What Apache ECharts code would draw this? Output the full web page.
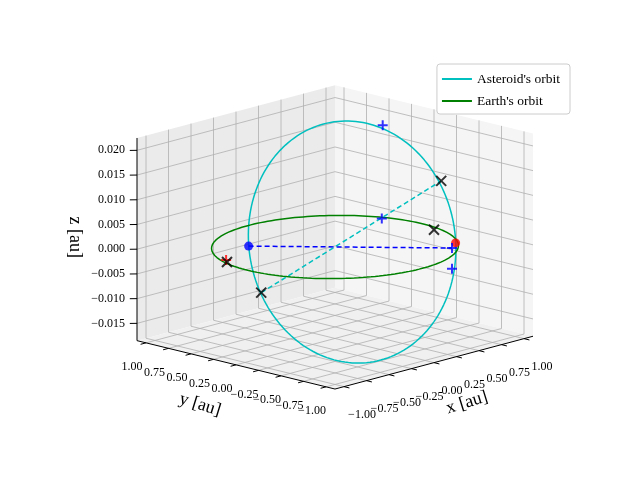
<!DOCTYPE html>
<html>
<head>
<meta charset="utf-8">
<script src="https://cdn.jsdelivr.net/npm/echarts@6/dist/echarts.min.js"></script>
<style>html,body{margin:0;background:#fff}#chart{width:640px;height:480px}</style>
</head>
<body>
<div id="chart"></div>
<script>
// 数据（3D 坐标，单位 au）
const xTicks = [-1, -0.75, -0.5, -0.25, 0, 0.25, 0.5, 0.75, 1]
const yTicks = [-1, -0.75, -0.5, -0.25, 0, 0.25, 0.5, 0.75, 1]
const zTicks = [-0.015, -0.01, -0.005, 0, 0.005, 0.01, 0.015, 0.02]
const boxX = [-1.1, 1.1]
const boxY = [-1.1, 1.1]
const boxZ = [-0.0185, 0.0225]
// 地球轨道：半径
const earthRadius = 0.97
// 小行星轨道：中心、半长轴向量、半短轴向量
const asteroidCenter = [0.145, -0.045, 0.0005]
const asteroidAxisA = [0.585, -0.565, 0]
const asteroidAxisB = [-0.04, 0.04, 0.0245]
const bluePoint = [-0.44, 0.52, 0]
const redPoint = [0.73, -0.61, 0]
const blackCrosses = [[0.39, -0.79, 0.015], [0.9, -0.2, 0], [-0.9, 0.3, 0], [-0.31, 0.51, -0.01]]
const bluePluses = [[0.32, -0.21, 0.024], [0.01, -0.51, 0.008], [0.6, -0.7, 0], [0.58, -0.72, -0.004]]
const redPluses = [[-0.86, 0.35, 0]]
const blueDash = [bluePoint, [0.6, -0.7, 0]]
const cyanDash = [[-0.31, 0.51, -0.01], [0.39, -0.79, 0.015]]

// 视角投影（正交）
function proj(p) {
  return [335 + 90 * p[0] - 90 * p[1], 247 - 24 * p[0] - 22 * p[1] - 4943 * p[2]]
}
const N = 180
function ellipse(c, a, b) {
  const out = []
  for (let i = 0; i <= N; i++) {
    const t = 2 * Math.PI * i / N
    out.push(proj([0, 1, 2].map(k => c[k] + a[k] * Math.cos(t) + b[k] * Math.sin(t))))
  }
  return out
}
const earthOrbit = ellipse([0, 0, 0], [earthRadius, 0, 0], [0, earthRadius, 0])
const asteroidOrbit = ellipse(asteroidCenter, asteroidAxisA, asteroidAxisB)

const font = 'Liberation Serif'
const plus = 'path://M5,0L5,10M0,5L10,5'
const cross = 'path://M0,0L10,10M10,0L0,10'

function fmt(v, d) {
  const s = v.toFixed(d)
  return v < 0 ? '\u2212' + s.slice(1) : s
}

function decor(params, api) {
  const ch = []
  const c = p => api.coord(proj(p))
  const [x0, x1] = boxX, [y0, y1] = boxY, [z0, z1] = boxZ
  const poly = (pts, fill) => ch.push({ type: 'polygon', shape: { points: pts.map(c) }, style: { fill: fill, stroke: null } })
  const seg = (a, b, color, w) => {
    const A = c(a), B = c(b)
    ch.push({ type: 'line', shape: { x1: A[0], y1: A[1], x2: B[0], y2: B[1] }, style: { stroke: color, lineWidth: w || 0.8 } })
  }
  const text = (p, s, dx, dy, opt) => {
    const P = c(p)
    ch.push({ type: 'text', x: P[0] + dx, y: P[1] + dy, rotation: (opt && opt.rot) || 0,
      style: { text: s, font: ((opt && opt.size) || 12) + 'px "' + font + '"', fill: '#000',
        align: (opt && opt.align) || 'center', verticalAlign: 'middle' } })
  }
  // 面板
  poly([[x0, y1, z0], [x1, y1, z0], [x1, y1, z1], [x0, y1, z1]], '#ebebeb')
  poly([[x1, y0, z0], [x1, y1, z0], [x1, y1, z1], [x1, y0, z1]], '#f5f5f5')
  poly([[x0, y0, z0], [x1, y0, z0], [x1, y1, z0], [x0, y1, z0]], '#f0f0f0')
  // 网格
  const g = '#b0b0b0'
  xTicks.forEach(x => { seg([x, y0, z0], [x, y1, z0], g); seg([x, y1, z0], [x, y1, z1], g) })
  yTicks.forEach(y => { seg([x0, y, z0], [x1, y, z0], g); seg([x1, y, z0], [x1, y, z1], g) })
  zTicks.forEach(z => { seg([x0, y1, z], [x1, y1, z], g); seg([x1, y1, z], [x1, y0, z], g) })
  // 坐标轴
  seg([x0, y0, z0], [x1, y0, z0], '#000', 1)
  seg([x0, y0, z0], [x0, y1, z0], '#000', 1)
  seg([x0, y1, z0], [x0, y1, z1], '#000', 1)
  xTicks.forEach(x => { seg([x, y0, z0], [x, y0 - 0.06, z0], '#000', 1); text([x, y0, z0], fmt(x, 2), 18, 28) })
  yTicks.forEach(y => { seg([x0, y, z0], [x0 - 0.06, y, z0], '#000', 1); text([x0, y, z0], fmt(y, 2), -14, 24) })
  zTicks.forEach(z => { seg([x0, y1, z], [x0 - 0.04, y1 + 0.04, z], '#000', 1); text([x0, y1, z], fmt(z, 3), -12, 0, { align: 'right' }) })
  text([0, y0, z0], 'x [au]', 33, 40, { size: 18, rot: 0.3 })
  text([x0, 0, z0], 'y [au]', -36, 40, { size: 18, rot: -0.3 })
  text([x0, y1, 0], 'z [au]', -62, -12, { size: 18, rot: -Math.PI / 2 })
  return { type: 'group', children: ch }
}

const chart = echarts.init(document.getElementById('chart'))
chart.setOption({
  animation: false,
  textStyle: { fontFamily: font },
  grid: { left: 0, right: 0, top: 0, bottom: 0 },
  xAxis: { type: 'value', min: 0, max: 640, show: false },
  yAxis: { type: 'value', min: 0, max: 480, inverse: true, show: false },
  legend: {
    right: 70, top: 64, orient: 'vertical', itemGap: 8, itemWidth: 30, itemHeight: 2,
    backgroundColor: '#fff', borderColor: '#ccc', borderWidth: 1, borderRadius: 3, padding: [8, 10, 6, 5],
    textStyle: { fontFamily: font, fontSize: 13.5, color: '#000' },
    data: [{ name: "Asteroid's orbit", icon: 'rect' }, { name: "Earth's orbit", icon: 'rect' }]
  },
  series: [
    { type: 'custom', renderItem: decor, data: [0], silent: true, z: 0 },
    { name: "Asteroid's orbit", type: 'line', data: asteroidOrbit, showSymbol: false, color: '#00bfbf', lineStyle: { width: 1.5 }, z: 2 },
    { name: "Earth's orbit", type: 'line', data: earthOrbit, showSymbol: false, color: '#008000', lineStyle: { width: 1.5 }, z: 2 },
    { type: 'line', data: blueDash.map(proj), showSymbol: false, color: '#0000ff', lineStyle: { width: 1.5, type: [5, 3] }, z: 3 },
    { type: 'line', data: cyanDash.map(proj), showSymbol: false, color: '#00bfbf', lineStyle: { width: 1.5, type: [5, 3] }, z: 3 },
    { type: 'scatter', data: [proj(bluePoint)], symbolSize: 9, itemStyle: { color: '#0000ff' }, z: 4 },
    { type: 'scatter', data: [proj(redPoint)], symbolSize: 9, itemStyle: { color: '#ff0000' }, z: 4 },
    { type: 'scatter', data: redPluses.map(proj), symbol: plus, symbolSize: 10, itemStyle: { color: 'none', borderColor: '#ff0000', borderWidth: 2 }, z: 4 },
    { type: 'scatter', data: bluePluses.map(proj), symbol: plus, symbolSize: 10, itemStyle: { color: 'none', borderColor: '#0000ff', borderWidth: 2 }, z: 5 },
    { type: 'scatter', data: blackCrosses.map(proj), symbol: cross, symbolSize: 10, itemStyle: { color: 'none', borderColor: '#000', borderWidth: 2 }, z: 5 }
  ]
})
</script>
</body>
</html>
